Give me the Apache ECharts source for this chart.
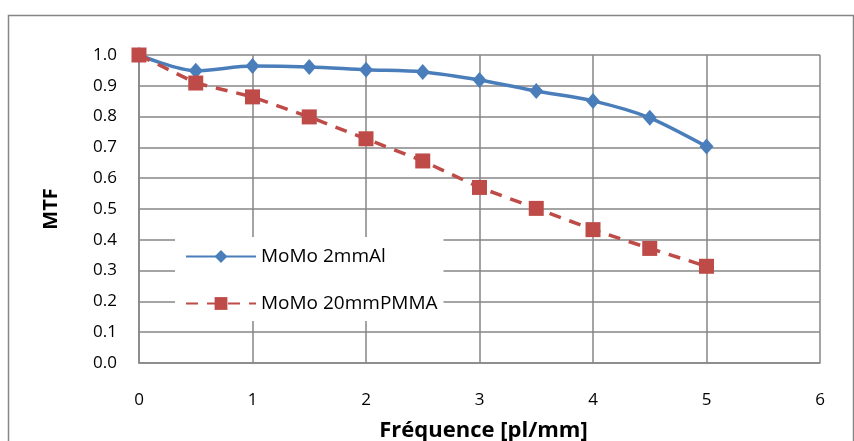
<!DOCTYPE html>
<html><head><meta charset="utf-8">
<script src="https://cdn.jsdelivr.net/npm/echarts@6/dist/echarts.min.js"></script>
<style>html,body{margin:0;padding:0;background:#fff}#c{width:854px;height:441px}</style>
</head><body><div id="c"></div>
<script>
const freq = [0, 0.5, 1, 1.5, 2, 2.5, 3, 3.5, 4, 4.5, 5];
const al2mm = [1.0, 0.949, 0.964, 0.961, 0.952, 0.945, 0.919, 0.883, 0.851, 0.796, 0.703];
const pmma20mm = [1.0, 0.909, 0.864, 0.799, 0.728, 0.656, 0.570, 0.502, 0.433, 0.372, 0.314];
const seriesNames = ['MoMo 2mmAl', 'MoMo 20mmPMMA'];
const xTitle = 'Fréquence [pl/mm]';
const yTitle = 'MTF';

const chart = echarts.init(document.getElementById('c'));
const font = '"Open Sans", Lato, sans-serif';
const grid = '#868686';
chart.setOption({
  animation: false,
  textStyle: {fontFamily: font},
  graphic: [{type: 'rect', shape: {x: 8.5, y: 15.5, width: 845, height: 440}, style: {fill: 'none', stroke: '#868686', lineWidth: 1.5}, z: 0}],
  grid: {left: 139, right: 34, top: 55, bottom: 78, containLabel: false, outerBoundsMode: 'none'},
  legend: {
    orient: 'vertical', left: 175, top: 237, itemWidth: 70, itemHeight: 16, itemGap: 28,
    backgroundColor: '#fff', padding: [10, 6, 8, 10],
    textStyle: {fontSize: 19, color: '#000', fontFamily: font},
    data: seriesNames
  },
  xAxis: {
    type: 'value', min: 0, max: 6, interval: 1,
    name: xTitle, nameLocation: 'middle', nameGap: 57,
    nameTextStyle: {fontSize: 22, fontWeight: 'bold', color: '#000', padding: [0, 0, 0, 8]},
    axisLine: {lineStyle: {color: grid, width: 1.5}},
    axisTick: {show: false},
    axisLabel: {fontSize: 17, color: '#000', margin: 29},
    splitLine: {show: true, lineStyle: {color: grid, width: 1.5}}
  },
  yAxis: {
    type: 'value', min: 0, max: 1, interval: 0.1,
    name: yTitle, nameLocation: 'middle', nameGap: 78, nameRotate: 90,
    nameTextStyle: {fontSize: 20, fontWeight: 'bold', color: '#000'},
    axisLine: {show: true, lineStyle: {color: grid, width: 1.5}},
    axisTick: {show: false},
    axisLabel: {fontSize: 17, color: '#000', margin: 22, formatter: v => v.toFixed(1)},
    splitLine: {show: true, lineStyle: {color: grid, width: 1.5}}
  },
  series: [
    {
      name: seriesNames[0], type: 'line', smooth: 0.3,
      data: freq.map((x, i) => [x, al2mm[i]]),
      symbol: 'diamond', symbolSize: [14, 16],
      itemStyle: {color: '#4a7ebb'},
      lineStyle: {color: '#4a7ebb', width: 3.5}, z: 2
    },
    {
      name: seriesNames[1], type: 'line',
      data: freq.map((x, i) => [x, pmma20mm[i]]),
      symbol: 'rect', symbolSize: 15,
      itemStyle: {color: '#be4b48'},
      lineStyle: {color: '#be4b48', width: 3.5, type: [12, 9]}, z: 3
    }
  ]
});
</script></body></html>
